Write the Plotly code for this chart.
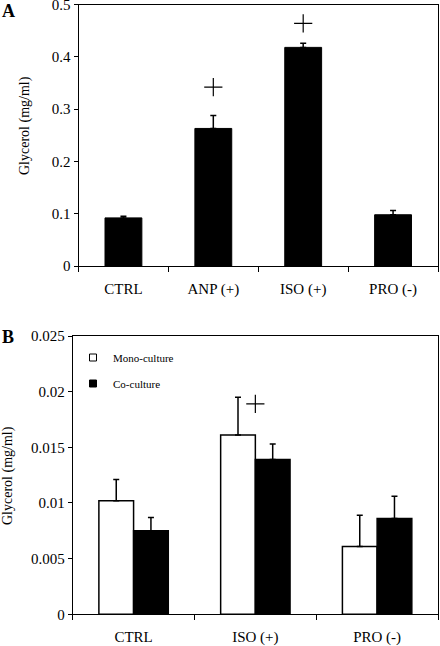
import plotly.graph_objects as go

# Panel A data
cats_a = ["CTRL", "ANP (+)", "ISO (+)", "PRO (-)"]
vals_a = [0.092, 0.263, 0.418, 0.098]
err_a = [0.003, 0.025, 0.008, 0.008]
sig_a_cats = ["ANP (+)", "ISO (+)"]
sig_a_y = [0.342, 0.464]

# Panel B data
cats_b = ["CTRL", "ISO (+)", "PRO (-)"]
mono_b = [0.0102, 0.0161, 0.0061]
mono_err = [0.0019, 0.0034, 0.0028]
co_b = [0.0075, 0.0139, 0.0086]
co_err = [0.0012, 0.0014, 0.0020]
sig_b_cats = ["ISO (+)"]
sig_b_y = [0.0189]

y_title = "Glycerol (mg/ml)"
serif = "Liberation Serif"

fig = go.Figure()

fig.add_trace(go.Bar(
    x=cats_a, y=vals_a, width=0.41,
    marker=dict(color="black", line=dict(color="black", width=1)),
    error_y=dict(type="data", array=err_a, arrayminus=[0]*len(err_a), symmetric=False,
                 color="black", thickness=1.5, width=3),
    showlegend=False, xaxis="x", yaxis="y"))
fig.add_trace(go.Scatter(
    x=sig_a_cats, y=sig_a_y, mode="markers",
    marker=dict(symbol="cross-thin-open", size=13, color="black",
                line=dict(color="black", width=1.2)),
    showlegend=False, xaxis="x", yaxis="y", hoverinfo="skip"))

fig.add_trace(go.Bar(
    x=cats_b, y=mono_b, name="Mono-culture", showlegend=False,
    marker=dict(color="white", line=dict(color="black", width=1.5)),
    error_y=dict(type="data", array=mono_err, arrayminus=[0]*3, symmetric=False,
                 color="black", thickness=1.5, width=3),
    xaxis="x2", yaxis="y2", offsetgroup="m"))
fig.add_trace(go.Bar(
    x=cats_b, y=co_b, name="Co-culture", showlegend=False,
    marker=dict(color="black", line=dict(color="black", width=1.5)),
    error_y=dict(type="data", array=co_err, arrayminus=[0]*3, symmetric=False,
                 color="black", thickness=1.5, width=3),
    xaxis="x2", yaxis="y2", offsetgroup="c"))
fig.add_trace(go.Scatter(
    x=sig_b_cats, y=sig_b_y, mode="markers",
    marker=dict(symbol="cross-thin-open", size=13, color="black",
                line=dict(color="black", width=1.2)),
    showlegend=False, xaxis="x2", yaxis="y2", hoverinfo="skip"))

# legend keys (small squares like the original)
fig.add_trace(go.Scatter(
    x=[None], y=[None], mode="markers", name="Mono-culture", legendgroup="m",
    marker=dict(symbol="square", size=7, color="white", line=dict(color="black", width=1)),
    xaxis="x2", yaxis="y2"))
fig.add_trace(go.Scatter(
    x=[None], y=[None], mode="markers", name="Co-culture", legendgroup="c",
    marker=dict(symbol="square", size=7, color="black", line=dict(color="black", width=1)),
    xaxis="x2", yaxis="y2"))

W, H = 440, 646
def py(p):
    return 1 - p / H

axis_common = dict(showgrid=False, zeroline=False, showline=True, linecolor="black",
                   linewidth=1, mirror=True, ticks="outside", tickcolor="black",
                   automargin=False, ticklabeloverflow="allow",
                   tickfont=dict(family=serif, size=15, color="black"))

fig.update_layout(
    width=W, height=H, margin=dict(l=0, r=0, t=0, b=0, autoexpand=False),
    paper_bgcolor="white", plot_bgcolor="white",
    barmode="group", bargap=0.43, bargroupgap=0,
    font=dict(family=serif, color="black"),
    xaxis=dict(domain=[78.5/W, 438/W], anchor="y", tickson="boundaries", ticklen=5,
               ticklabelstandoff=9, **axis_common),
    yaxis=dict(domain=[py(266), py(4.5)], anchor="x", range=[0, 0.5], dtick=0.1, ticklen=4,
               **axis_common),
    xaxis2=dict(domain=[72.7/W, 438/W], anchor="y2", tickson="boundaries", ticklen=5,
                ticklabelstandoff=9, **axis_common),
    yaxis2=dict(domain=[py(614.3), py(336)], anchor="x2", range=[0, 0.025], dtick=0.005,
                ticklen=4, **axis_common),
    legend=dict(x=73/W, y=py(343), xanchor="left", yanchor="top",
                bgcolor="rgba(0,0,0,0)", font=dict(family=serif, size=11, color="black"),
                tracegroupgap=7),
    annotations=[
        dict(text="<b>A</b>", x=0, y=py(11), xref="paper", yref="paper", xanchor="left",
             yanchor="middle", showarrow=False, font=dict(family=serif, size=18, color="black")),
        dict(text="<b>B</b>", x=0, y=py(337), xref="paper", yref="paper", xanchor="left",
             yanchor="middle", showarrow=False, font=dict(family=serif, size=18, color="black")),
        dict(text=y_title, x=25/W, y=py(126), xref="paper", yref="paper", textangle=-90,
             xanchor="center", yanchor="middle", showarrow=False,
             font=dict(family=serif, size=14, color="black")),
        dict(text=y_title, x=8/W, y=py(476), xref="paper", yref="paper", textangle=-90,
             xanchor="center", yanchor="middle", showarrow=False,
             font=dict(family=serif, size=14, color="black")),
    ],
)

fig.write_html("out.html", config={"displayModeBar": False},
               post_script="document.body.style.margin='0px';")
